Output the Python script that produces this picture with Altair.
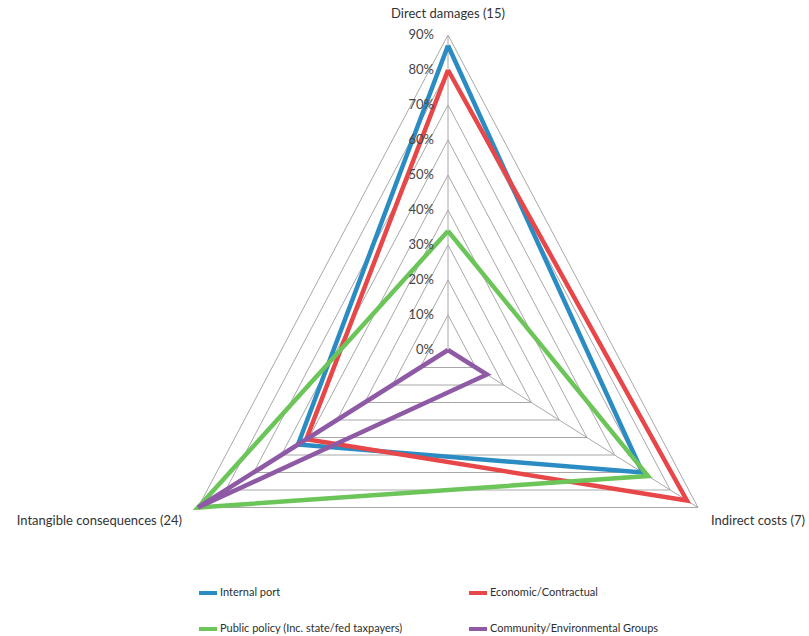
import altair as alt
import pandas as pd

# Radar axes (clockwise from the top) and their compass angle in degrees
axes = ["Direct damages (15)", "Indirect costs (7)", "Intangible consequences (24)"]
angles = [0, 120, 240]

# Stakeholder series, one value per axis (percent)
series = [
    "Internal port",
    "Economic/Contractual",
    "Public policy (Inc. state/fed taxpayers)",
    "Community/Environmental Groups",
]
internal_port = [87, 70, 54]
economic_contractual = [80, 86, 51]
public_policy = [34, 72, 90]
community_environmental = [0, 14, 90]
colors = ["#2b8cc4", "#e8474a", "#6cc558", "#8e5aa6"]

# Radial gridline levels
ticks = [0, 10, 20, 30, 40, 50, 60, 70, 80, 90]
r_max = 90

values = [internal_port, economic_contractual, public_policy, community_environmental]

# Closed polygons: each series revisits its first axis at the end
rows = []
for s, vals in zip(series, values):
    for i in range(len(axes) + 1):
        k = i % len(axes)
        rows.append({"series": s, "axis": axes[k], "angle": angles[k],
                     "value": vals[k], "step": i})
series_df = pd.DataFrame(rows)

grid_rows = []
for t in ticks[1:]:
    for i in range(len(axes) + 1):
        k = i % len(axes)
        grid_rows.append({"level": t, "angle": angles[k], "value": t, "step": i})
grid_df = pd.DataFrame(grid_rows)

spoke_rows = []
for a, ang in zip(axes, angles):
    spoke_rows.append({"axis": a, "angle": ang, "value": 0})
    spoke_rows.append({"axis": a, "angle": ang, "value": r_max})
spoke_df = pd.DataFrame(spoke_rows)

tick_df = pd.DataFrame({"value": ticks, "angle": [0] * len(ticks),
                        "label": [f"{t}%" for t in ticks]})
axis_df = pd.DataFrame({"axis": axes, "angle": angles, "value": [r_max] * 3})

# Plot area is the whole canvas; domains place the centre and stretch
W, H = 809, 636
cx, cy = 448, 350
sx = 250 / (r_max * 0.8660254)
sy = 315 / r_max
x_scale = alt.Scale(domain=[-cx / sx, (W - cx) / sx], nice=False, zero=False)
y_scale = alt.Scale(domain=[-(H - cy) / sy, cy / sy], nice=False, zero=False)

polar = dict(
    px="datum.value * sin(datum.angle * PI / 180)",
    py="datum.value * cos(datum.angle * PI / 180)",
)
X = alt.X("px:Q", scale=x_scale, axis=None)
Y = alt.Y("py:Q", scale=y_scale, axis=None)

grid = alt.Chart(grid_df).transform_calculate(**polar).mark_line(
    color="#a8a8a8", strokeWidth=1
).encode(x=X, y=Y, detail="level:N", order="step:Q")

spokes = alt.Chart(spoke_df).transform_calculate(**polar).mark_line(
    color="#a8a8a8", strokeWidth=1
).encode(x=X, y=Y, detail="axis:N")

# Legend fills column by column, so list entries so that rows read across
legend_order = [series[0], series[2], series[1], series[3]]
legend_colors = [colors[0], colors[2], colors[1], colors[3]]
legend = alt.Legend(
    title=None, orient="none", legendX=197, legendY=582,
    columns=2, columnPadding=58, rowPadding=17,
    symbolType="stroke", symbolSize=324, symbolStrokeWidth=4,
    labelFont="Lato", labelFontSize=11, labelColor="#2e2e2e",
    labelOffset=1, labelLimit=300,
)
color = alt.Color("series:N", scale=alt.Scale(domain=legend_order, range=legend_colors),
                  legend=legend)

# One layer per series so later series draw on top
series_layers = [
    alt.Chart(series_df).transform_filter(alt.datum.series == s)
    .transform_calculate(**polar)
    .mark_line(strokeWidth=4.5, strokeJoin="miter")
    .encode(x=X, y=Y, order="step:Q", color=color)
    for s in series
]

tick_labels = alt.Chart(tick_df).transform_calculate(**polar).mark_text(
    align="right", baseline="middle", dx=-14, font="Lato", fontSize=13,
    color="#444444"
).encode(x=X, y=Y, text="label:N")

text_style = dict(font="Lato", fontSize=13, color="#333333", baseline="middle")
axis_base = alt.Chart(axis_df).transform_calculate(**polar)
top_label = axis_base.transform_filter(alt.datum.angle == 0).mark_text(
    align="center", dy=-21, **text_style).encode(x=X, y=Y, text="axis:N")
right_label = axis_base.transform_filter(alt.datum.angle == 120).mark_text(
    align="left", dx=13, dy=13, **text_style).encode(x=X, y=Y, text="axis:N")
left_label = axis_base.transform_filter(alt.datum.angle == 240).mark_text(
    align="right", dx=-16, dy=13, **text_style).encode(x=X, y=Y, text="axis:N")

chart = alt.layer(
    grid, spokes, *series_layers, tick_labels, top_label, right_label, left_label
).properties(
    width=W, height=H, autosize=alt.AutoSizeParams(type="none"), padding=0,
    background="white",
).configure_view(strokeWidth=0)

chart.save("out.html", embed_options={"renderer": "svg", "actions": False})
